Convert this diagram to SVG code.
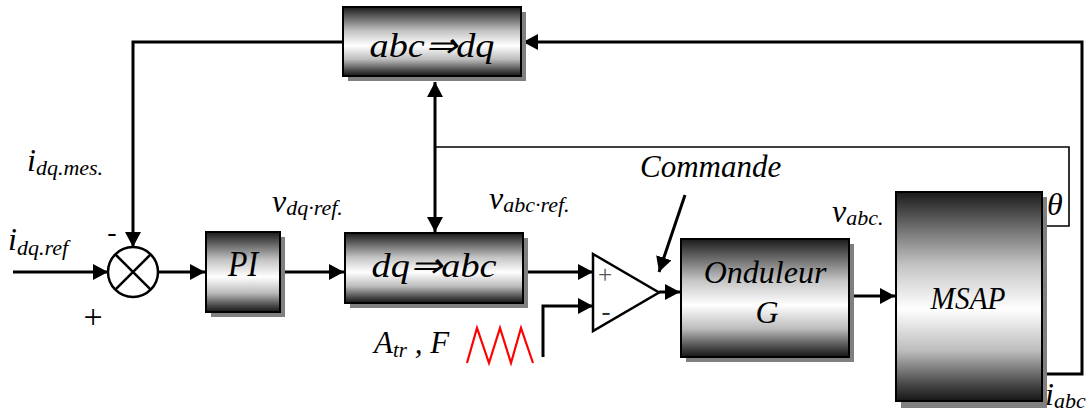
<svg xmlns="http://www.w3.org/2000/svg" width="1091" height="414" viewBox="0 0 1091 414">
<defs>
<linearGradient id="g" x1="0" y1="0" x2="0" y2="1">
<stop offset="0" stop-color="#1a1a1a"/>
<stop offset="0.12" stop-color="#555"/>
<stop offset="0.35" stop-color="#c4c4c4"/>
<stop offset="0.56" stop-color="#ffffff"/>
<stop offset="0.76" stop-color="#bcbcbc"/>
<stop offset="0.92" stop-color="#484848"/>
<stop offset="1" stop-color="#161616"/>
</linearGradient>
<marker id="ah" markerUnits="userSpaceOnUse" markerWidth="16" markerHeight="18" refX="15" refY="8" orient="auto">
<path d="M0,0 L15,8 L0,16 Z" fill="#000"/>
</marker>
<marker id="ahs" markerUnits="userSpaceOnUse" markerWidth="16" markerHeight="18" refX="0" refY="8" orient="auto">
<path d="M15,0 L0,8 L15,16 Z" fill="#000"/>
</marker>
</defs>
<style>
.sh{fill:#808080}
.bx{fill:url(#g);stroke:#000;stroke-width:2}
.w{fill:none;stroke:#000;stroke-width:3}
.thin{fill:none;stroke:#000;stroke-width:1.6}
text{font-family:'Liberation Serif','Times New Roman',serif}
.t{font-style:italic;fill:#000}
.r{fill:#000}
</style>

<g id="connectors">
<path class="w" d="M343,42 H133 V247" marker-end="url(#ah)"/>
<path class="w" d="M1047,374 H1082 V42 H523" marker-end="url(#ah)"/>
<path class="thin" d="M1046,226 H1069 V147 H435"/>
<path class="w" d="M435,82 V232" marker-start="url(#ahs)" marker-end="url(#ah)"/>
<path class="w" d="M13,272 H108" marker-end="url(#ah)"/>
<path class="w" d="M158,272 H205" marker-end="url(#ah)"/>
<path class="w" d="M285,272 H344" marker-end="url(#ah)"/>
<path class="w" d="M528,272 H593" marker-end="url(#ah)"/>
<path class="w" d="M543,357 V306 H593" marker-end="url(#ah)"/>
<path class="w" d="M659,292 H680" marker-end="url(#ah)"/>
<path class="w" d="M854,296 H895" marker-end="url(#ah)"/>
<path class="w" d="M685,195 L659,272" marker-end="url(#ah)"/>
<polyline points="467,363 477,328 489,363 500,328 511,363 521,328 533,363" fill="none" stroke="#f00" stroke-width="2.2"/>
</g>

<g id="abc2dq">
<rect class="sh" x="348" y="12" width="178" height="69"/>
<rect class="bx" x="343" y="7" width="178" height="69"/>
<text class="t" x="432" y="57" font-size="34" text-anchor="middle" textLength="125" lengthAdjust="spacingAndGlyphs">abc⇒dq</text>
</g>

<g id="sum">
<circle cx="133" cy="272" r="25" fill="#fff" stroke="#000" stroke-width="2.5"/>
<path d="M115.3,254.3 L150.7,289.7 M150.7,254.3 L115.3,289.7" stroke="#000" stroke-width="2.5"/>
<text class="r" x="112" y="241" font-size="28" text-anchor="middle">-</text>
<text class="r" x="93" y="328" font-size="34" text-anchor="middle">+</text>
</g>

<g id="pi">
<rect class="sh" x="211" y="237" width="74" height="80"/>
<rect class="bx" x="206" y="232" width="74" height="80"/>
<text class="t" x="243" y="276" font-size="35" text-anchor="middle" textLength="30" lengthAdjust="spacingAndGlyphs">PI</text>
</g>

<g id="dq2abc">
<rect class="sh" x="350" y="238" width="178" height="70"/>
<rect class="bx" x="345" y="233" width="178" height="70"/>
<text class="t" x="434" y="277" font-size="34" text-anchor="middle" textLength="125" lengthAdjust="spacingAndGlyphs">dq⇒abc</text>
</g>

<g id="comparator">
<path d="M593,254 L659,292.5 L593,331 Z" fill="#fff" stroke="#000" stroke-width="2.5"/>
<text class="r" x="605" y="283" font-size="25" text-anchor="middle" style="fill:#555">+</text>
<text class="r" x="606" y="320" font-size="27" text-anchor="middle" style="fill:#333">-</text>
</g>

<g id="onduleur">
<rect class="sh" x="686" y="244" width="168" height="118"/>
<rect class="bx" x="681" y="239" width="168" height="118"/>
<text class="t" x="765" y="283" font-size="32" text-anchor="middle">Onduleur</text>
<text class="t" x="767" y="323" font-size="32" text-anchor="middle">G</text>
</g>

<g id="msap">
<rect class="sh" x="901" y="197" width="146" height="211"/>
<rect class="bx" x="896" y="192" width="146" height="209"/>
<text class="t" x="968" y="309" font-size="32" text-anchor="middle" textLength="75" lengthAdjust="spacingAndGlyphs">MSAP</text>
</g>

<g id="labels">
<text class="t" x="8" y="250" font-size="32">i<tspan font-size="22" dy="5">dq.ref</tspan></text>
<text class="t" x="27" y="171" font-size="32">i<tspan font-size="22" dy="4">dq.mes.</tspan></text>
<text class="t" x="272" y="212" font-size="32">v<tspan font-size="22" dy="3">dq·ref.</tspan></text>
<text class="t" x="489" y="209" font-size="32">v<tspan font-size="22" dy="3">abc·ref.</tspan></text>
<text class="t" x="832" y="222" font-size="32">v<tspan font-size="22" dy="3">abc.</tspan></text>
<text class="t" x="640" y="177" font-size="31">Commande</text>
<text class="t" x="1047" y="215" font-size="32">θ</text>
<text class="t" x="1045" y="405" font-size="32">i<tspan font-size="22" dy="3">abc</tspan></text>
<text class="t" x="374" y="353" font-size="31">A<tspan font-size="21" dy="4">tr</tspan><tspan dy="-4"> , F</tspan></text>
</g>
</svg>
